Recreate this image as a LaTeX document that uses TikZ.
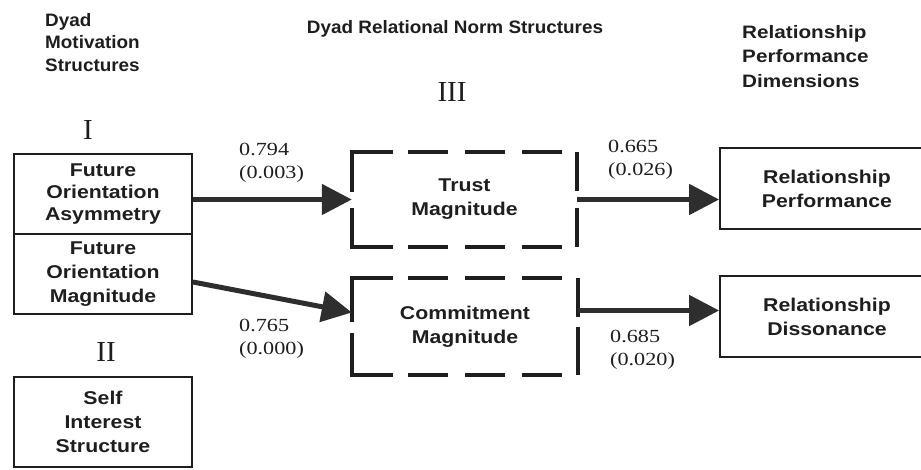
\documentclass[tikz,border=0pt]{standalone}
\usepackage{fontspec}
\setmainfont{Liberation Serif}
\newfontfamily\numfont{Liberation Serif}[FakeStretch=1.2]
\newfontfamily\labfont{Liberation Sans}[FakeStretch=1.05]
\newfontfamily\boxfont{Liberation Sans}[FakeStretch=1.15]
\usetikzlibrary{arrows.meta,calc}
\definecolor{ink}{HTML}{1E1E1E}
\definecolor{arrowink}{HTML}{2E2E2E}
\tikzset{
  lab/.style={font=\labfont\bfseries\fontsize{18}{24}\selectfont, text=ink, inner sep=0pt},
  boxtext/.style={font=\boxfont\bfseries\fontsize{18.5}{24}\selectfont, text=ink, inner sep=0pt},
  box/.style={boxtext, draw=ink, line width=1.8pt, minimum width=178pt, align=center},
  plainbox/.style={boxtext, align=center},
  header/.style={lab, align=left, anchor=north west},
  roman/.style={font=\fontsize{29}{29}\selectfont, text=ink, inner sep=0pt},
  coef/.style={font=\numfont\fontsize{18.5}{23}\selectfont, text=ink, inner sep=0pt, align=left, anchor=west},
  arr/.style={draw=arrowink, line width=5pt, -{Triangle[length=30pt,width=30pt]}},
  dseg/.style={draw=ink, line width=4pt, line join=miter}
}
\begin{document}
\begin{tikzpicture}[x=1pt, y=-1pt]
\useasboundingbox (0,0) rectangle (921,470);
\begin{scope}
\clip (0,0) rectangle (921,470);

% column headings
\node[header, font=\labfont\bfseries\fontsize{18}{22.7}\selectfont] (h1) at (45,13) {Dyad\\Motivation\\Structures};
\node[lab] (h2) at (455,29) {Dyad Relational Norm Structures};
\node[header, font=\boxfont\bfseries\fontsize{18}{24.5}\selectfont] (h3) at (742,25) {Relationship\\Performance\\Dimensions};

% group numerals
\node[roman] (r1) at (88,130) {I};
\node[roman] (r2) at (106,352) {II};
\node[roman] (r3) at (452,92) {III};

% motivation structures
\node[box, minimum height=80pt, font=\boxfont\bfseries\fontsize{18.5}{22}\selectfont] (fa) at (103,194) {Future\\Orientation\\Asymmetry};
\node[box, minimum height=80pt] (fm) at (103,274) {Future\\Orientation\\Magnitude};
\node[box, minimum height=90pt] (si) at (103,422) {Self\\Interest\\Structure};

% relational norm structures (broken outlines)
\node[plainbox, minimum width=225pt, minimum height=95pt] (tm) at (464.5,199.5) {Trust\\Magnitude};
\node[plainbox, minimum width=226pt, minimum height=97pt] (cm) at (465,326.5) {Commitment\\Magnitude};

% trust outline
\draw[dseg] (352,192) -- (352,152) -- (393,152);
\draw[dseg] (408,152) -- (448,152) (465,152) -- (505,152) (522,152) -- (562,152);
\draw[dseg] (577,152) -- (577,191) (577,208) -- (577,247);
\draw[dseg] (352,208) -- (352,247) -- (393,247);
\draw[dseg] (408,247) -- (448,247) (465,247) -- (505,247) (522,247) -- (562,247);

% commitment outline
\draw[dseg] (352,322) -- (352,278) -- (393,278);
\draw[dseg] (408,278) -- (448,278) (465,278) -- (505,278) (522,278) -- (562,278);
\draw[dseg] (578,278) -- (578,317) (578,327) -- (578,375);
\draw[dseg] (352,333) -- (352,375) -- (393,375);
\draw[dseg] (408,375) -- (448,375) (465,375) -- (505,375) (522,375) -- (562,375);

% performance dimensions
\node[box, minimum width=214pt, minimum height=81pt] (rp) at (827,188.5) {Relationship\\Performance};
\node[box, minimum width=214pt, minimum height=81pt] (rd) at (827,316.5) {Relationship\\Dissonance};

% paths
\draw[arr] (fa.east |- tm.west) -- (tm.west);
\draw[arr] ($(fm.east)+(0,8)$) -- ($(cm.west)+(0,-14)$);
\draw[arr] (tm.east) -- (tm.east -| rp.west);
\coordinate (c4) at ($(cm.east)+(0,-16)$);
\draw[arr] (c4) -- (c4 -| rd.west);

% path coefficients
\node[coef] (k1) at (239,162.5) {0.794\\(0.003)};
\node[coef] (k2) at (239,339) {0.765\\(0.000)};
\node[coef] (k3) at (608,160) {0.665\\(0.026)};
\node[coef] (k4) at (610,350) {0.685\\(0.020)};
\end{scope}
\end{tikzpicture}
\end{document}
